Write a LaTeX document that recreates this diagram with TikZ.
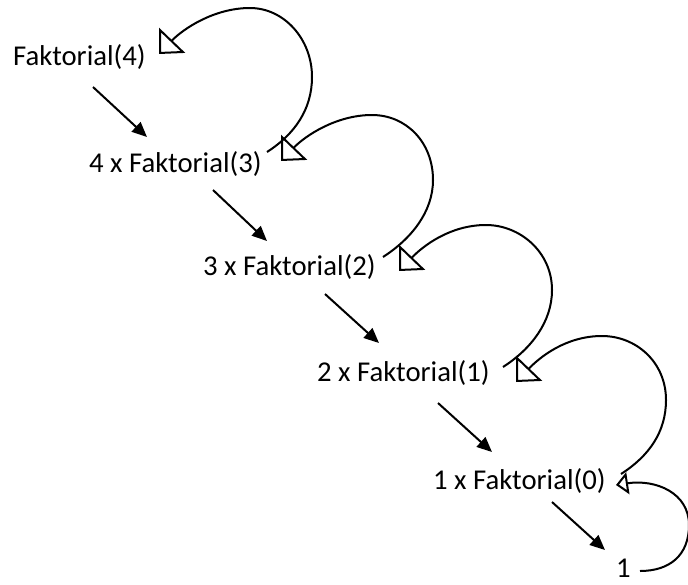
\documentclass[tikz,border=0pt]{standalone}
\usepackage{fontspec}
\setmainfont{Carlito}
\usetikzlibrary{arrows.meta}
% one returning loop: start, rightmost point, top point, arrow tip
\newcommand\returnloop[4]{%
  \draw[back] (#1) .. controls +(28,-18) and +(0,32) .. (#2)
    .. controls +(0,-38) and +(34,0) .. (#3)
    .. controls +(-36,0) and +(24,-25) .. (#4);}
\begin{document}
\begin{tikzpicture}[x=1pt,y=-1pt,
  term/.style={anchor=base west, inner sep=0pt,
    font=\fontsize{28.7pt}{34pt}\selectfont},
  call/.style={line width=2pt, -{Triangle[length=15pt,width=13pt]}},
  back/.style={line width=2pt, -{Triangle[open,length=19pt,width=36pt]}},
  backsmall/.style={line width=2pt, -{Triangle[open,length=12pt,width=22pt]}}]
\useasboundingbox (0,0) rectangle (688,584);

% terms of the recursion
\node[term] (f4) at (13,65)  {Faktorial(4)};
\node[term] (f3) at (89,172) {4 x Faktorial(3)};
\node[term] (f2) at (203,275) {3 x Faktorial(2)};
\node[term] (f1) at (317,381) {2 x Faktorial(1)};
\node[term] (f0) at (433,489) {1 x Faktorial(0)};
\node[term] (res) at (616,577) {1};

% ends of the call arrows
\coordinate (c1s) at (93,87);   \coordinate (c1e) at (147,137);
\coordinate (c2s) at (213,190); \coordinate (c2e) at (267,241);
\coordinate (c3s) at (325,294); \coordinate (c3e) at (379,343);
\coordinate (c4s) at (438,403); \coordinate (c4e) at (492,452);
\coordinate (c5s) at (552,502); \coordinate (c5e) at (605,550);

\draw[call] (c1s) -- (c1e);
\draw[call] (c2s) -- (c2e);
\draw[call] (c3s) -- (c3e);
\draw[call] (c4s) -- (c4e);
\draw[call] (c5s) -- (c5e);

% return loops
\coordinate (r1s) at (267,152); \coordinate (r1r) at (312,77);
\coordinate (r1t) at (250,8);   \coordinate (r1e) at (159,54);
\coordinate (r2s) at (383,257); \coordinate (r2r) at (433,180);
\coordinate (r2t) at (372,115); \coordinate (r2e) at (281,161);
\coordinate (r3s) at (503,367); \coordinate (r3r) at (552,290);
\coordinate (r3t) at (486,225); \coordinate (r3e) at (399,271);
\coordinate (r4s) at (621,474); \coordinate (r4r) at (666,400);
\coordinate (r4t) at (602,336); \coordinate (r4e) at (516,382);
\returnloop{r1s}{r1r}{r1t}{r1e}
\returnloop{r2s}{r2r}{r2t}{r2e}
\returnloop{r3s}{r3r}{r3t}{r3e}
\returnloop{r4s}{r4r}{r4t}{r4e}

\coordinate (r5s) at (640,571); \coordinate (r5r) at (689,525);
\coordinate (r5e) at (616,485);
\draw[backsmall] (r5s) .. controls +(30,0) and +(0,30) .. (r5r)
  .. controls +(0,-32) and +(40,-6) .. (r5e);
\end{tikzpicture}
\end{document}
